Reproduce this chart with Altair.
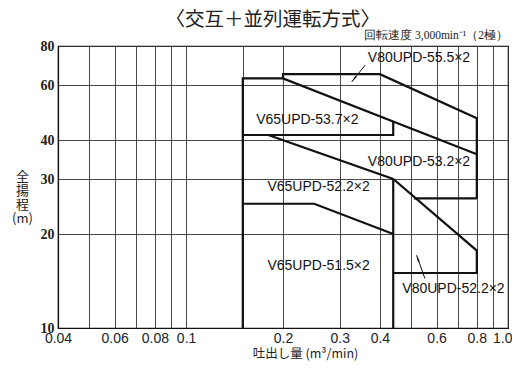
import altair as alt
import pandas as pd

# ---- texts ----
title_text = "〈交互＋並列運転方式〉"
speed_text = "回転速度 3,000min⁻¹（2極）"
x_title = "吐出し量 (m³/min)"
y_title = ["全", "揚", "程", "(m)"]

# ---- axes ----
x_grid = [0.04, 0.05, 0.06, 0.07, 0.08, 0.09, 0.1, 0.15, 0.2, 0.3, 0.4, 0.5, 0.6, 0.7, 0.8, 0.9, 1.0]
x_tick_values = [0.04, 0.06, 0.08, 0.1, 0.2, 0.3, 0.4, 0.6, 0.8, 1.0]
x_tick_labels = ["0.04", "0.06", "0.08", "0.1", "0.2", "0.3", "0.4", "0.6", "0.8", "1.0"]
y_grid = [10, 20, 30, 40, 60, 80]

# ---- boundary lines of the operating ranges ----
b1_x = [0.2, 0.2, 0.4, 0.8, 0.8]
b1_y = [63, 65, 65, 47, 26]
b2_x = [0.15, 0.15, 0.2, 0.8]
b2_y = [10, 63, 63, 36]
b3_x = [0.15, 0.44, 0.44]
b3_y = [41.5, 41.5, 45.8]
b4_x = [0.18, 0.44, 0.8, 0.8, 0.44]
b4_y = [41.5, 30, 17.7, 15, 15]
b5_x = [0.44, 0.44]
b5_y = [30, 10]
b6_x = [0.15, 0.25, 0.44]
b6_y = [25, 25, 20]
b7_x = [0.51, 0.8]
b7_y = [26, 26]

# ---- range labels ----
label_names = ["V80UPD-55.5×2", "V65UPD-53.7×2", "V80UPD-53.2×2",
               "V65UPD-52.2×2", "V65UPD-51.5×2", "V80UPD-52.2×2"]
label_x = [0.529, 0.238, 0.529, 0.258, 0.258, 0.677]
label_y = [73.2, 46.3, 34.0, 28.3, 15.8, 13.3]

# ---- arrows (start -> tip) ----
arrow1_x = [0.36, 0.327]
arrow1_y = [69.5, 61.4]
arrow2_x = [0.552, 0.52]
arrow2_y = [14.4, 17.1]

rows = []
for i, (xs, ys) in enumerate([(b1_x, b1_y), (b2_x, b2_y), (b3_x, b3_y), (b4_x, b4_y),
                              (b5_x, b5_y), (b6_x, b6_y), (b7_x, b7_y)]):
    for j, (xv, yv) in enumerate(zip(xs, ys)):
        rows.append({"seg": i, "ord": j, "x": xv, "y": yv})
lines_df = pd.DataFrame(rows)

arows = []
for i, (xs, ys) in enumerate([(arrow1_x, arrow1_y), (arrow2_x, arrow2_y)]):
    for j, (xv, yv) in enumerate(zip(xs, ys)):
        arows.append({"seg": i, "ord": j, "x": xv, "y": yv})
arrows_df = pd.DataFrame(arows)

labels_df = pd.DataFrame({"name": label_names, "x": label_x, "y": label_y})

label_expr = "".join(
    f"datum.value == {v} ? '{t}' : " for v, t in zip(x_tick_values, x_tick_labels)
) + "''"

xscale = alt.Scale(type="log", domain=[0.04, 1.0], nice=False)
yscale = alt.Scale(type="log", domain=[10, 80], nice=False)

xaxis = alt.Axis(values=x_grid, labelExpr=label_expr, ticks=False, grid=True,
                 gridColor="#333", gridWidth=0.9, gridOpacity=1,
                 domainColor="#111", domainWidth=1.2,
                 labelFont="Liberation Sans", labelFontSize=14, labelColor="#222",
                 labelFlush=False, labelPadding=3, labelOverlap=False,
                 labelAlign={"condition": {"test": "datum.value >= 1", "value": "right"}, "value": "center"},
                 labelOffset={"condition": {"test": "datum.value >= 1", "value": 4}, "value": 0},
                 title=x_title, titleFont="Noto Sans CJK JP", titleFontSize=12.5,
                 titleFontWeight="normal", titleColor="#222",
                 titleX=247, titleY=25, titleBaseline="middle", titleAlign="center")
yaxis = alt.Axis(values=y_grid, ticks=False, grid=True, format="d",
                 gridColor="#333", gridWidth=0.9, gridOpacity=1,
                 domainColor="#111", domainWidth=1.2,
                 labelFont="Liberation Sans Narrow", labelFontSize=14, labelColor="#222",
                 labelFontWeight="bold", labelPadding=4, labelOverlap=False,
                 title=y_title, titleAngle=0, titleFont="Noto Sans CJK JP", titleFontSize=13,
                 titleFontWeight="normal", titleColor="#222", titleLineHeight=14,
                 titleX=-36, titleY=124, titleBaseline="top", titleAlign="center")

base_lines = alt.Chart(lines_df).mark_line(color="#111", strokeWidth=2.2, strokeJoin="miter").encode(
    x=alt.X("x:Q", scale=xscale, axis=xaxis),
    y=alt.Y("y:Q", scale=yscale, axis=yaxis),
    detail="seg:N",
    order="ord:Q",
)

text_layer = alt.Chart(labels_df).mark_text(font="Liberation Sans", fontSize=14, color="#111").encode(
    x=alt.X("x:Q", scale=xscale),
    y=alt.Y("y:Q", scale=yscale),
    text="name:N",
)

arrow_lines = alt.Chart(arrows_df).mark_line(color="#111", strokeWidth=1).encode(
    x=alt.X("x:Q", scale=xscale),
    y=alt.Y("y:Q", scale=yscale),
    detail="seg:N",
    order="ord:Q",
)

head_shape = "M0,0L0.3,2.2L-0.3,2.2Z"
head1 = alt.Chart(arrows_df[(arrows_df.seg == 0) & (arrows_df.ord == 1)]).mark_point(
    shape=head_shape, filled=True, color="#111", size=40, angle=218, opacity=1
).encode(x=alt.X("x:Q", scale=xscale), y=alt.Y("y:Q", scale=yscale))
head2 = alt.Chart(arrows_df[(arrows_df.seg == 1) & (arrows_df.ord == 1)]).mark_point(
    shape=head_shape, filled=True, color="#111", size=40, angle=340, opacity=1
).encode(x=alt.X("x:Q", scale=xscale), y=alt.Y("y:Q", scale=yscale))

title_df = pd.DataFrame({"t": [title_text]})
title_layer = alt.Chart(title_df).mark_text(
    font="Noto Sans CJK JP", fontSize=19.5, color="#222", baseline="middle", align="center"
).encode(x=alt.value(214.7), y=alt.value(-26), text="t:N")

speed_df = pd.DataFrame({"t": [speed_text]})
speed_layer = alt.Chart(speed_df).mark_text(
    font="Liberation Serif", fontSize=11.5, color="#222", baseline="middle", align="right"
).encode(x=alt.value(450), y=alt.value(-9.7), text="t:N")

chart = alt.layer(base_lines, text_layer, arrow_lines, head1, head2, title_layer, speed_layer).properties(
    width=450, height=282,
    autosize=alt.AutoSizeParams(type="none"),
    padding={"left": 50, "top": 38, "right": 4, "bottom": 35},
    background="white",
).configure_view(stroke="#111", strokeWidth=1.2)

chart.save("out.html", embed_options={"renderer": "svg", "actions": False})
